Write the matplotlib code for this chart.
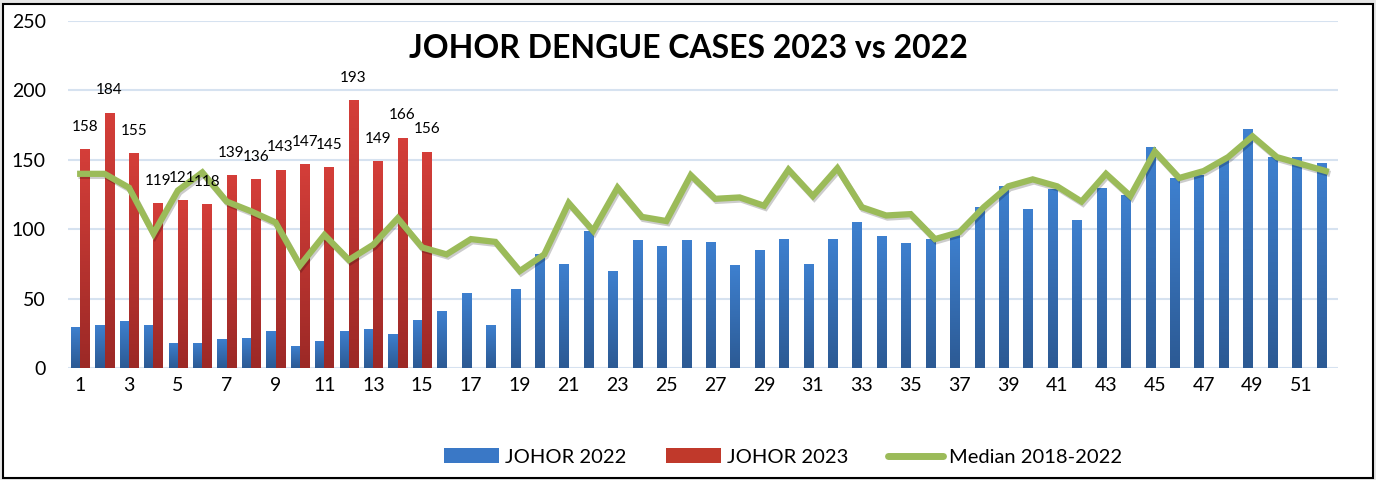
import matplotlib.pyplot as plt
import matplotlib.patheffects as pe
import numpy as np
from matplotlib.colors import LinearSegmentedColormap
from matplotlib.lines import Line2D
from matplotlib.patches import Patch, Rectangle

plt.rcParams["font.family"] = ["Lato", "DejaVu Sans"]

weeks = list(range(1, 53))

johor_2022 = [30, 31, 34, 31, 18, 18, 21, 22, 27, 16, 20, 27, 28, 25, 35, 41,
              54, 31, 57, 82, 75, 99, 70, 92, 88, 92, 91, 74, 85, 93, 75, 93,
              105, 95, 90, 93, 96, 116, 131, 115, 129, 107, 130, 125, 159, 137,
              139, 151, 172, 152, 152, 148]

johor_2023 = [158, 184, 155, 119, 121, 118, 139, 136, 143, 147, 145, 193, 149,
              166, 156]

median_18_22 = [140, 140, 130, 97, 128, 141, 120, 113, 105, 74, 96, 78, 89, 108,
                87, 82, 93, 91, 70, 82, 119, 99, 130, 109, 106, 139, 122, 123,
                117, 143, 124, 144, 116, 110, 111, 93, 98, 116, 131, 136, 131,
                120, 140, 124, 156, 137, 142, 152, 167, 152, 147, 142]

xtick_labels = [str(w) for w in weeks[::2]]

BLUE_CMAP = LinearSegmentedColormap.from_list("blue", ["#2c5a94", "#3e80cf"])
RED_CMAP = LinearSegmentedColormap.from_list("red", ["#9c2926", "#d43e39"])
GREEN = "#9bbb59"


def _gradient_bars(ax, bars, cmap):
    """Fill each bar with a vertical gradient clipped to the bar."""
    grad = np.linspace(0, 1, 64).reshape(-1, 1)
    for bar in bars:
        x, y = bar.get_x(), bar.get_y()
        w, h = bar.get_width(), bar.get_height()
        im = ax.imshow(grad, cmap=cmap, origin="lower", aspect="auto",
                       extent=(x, x + w, y, y + h), zorder=2)
        im.set_clip_path(bar)
        bar.set_alpha(0)


fig = plt.figure(figsize=(13.76, 4.8), dpi=100)
fig.patch.set_facecolor("#e6e6e6")
fig.patches.append(Rectangle((3 / 1376, 2 / 480), 1370 / 1376, 474 / 480,
                             transform=fig.transFigure, facecolor="white",
                             edgecolor="black", linewidth=1.5, zorder=-5))

ax = fig.add_axes([68 / 1376, 111.7 / 480, 1270 / 1376, 347.3 / 480])
ax.set_facecolor("none")

x = np.array(weeks)
w = 0.38
bars22 = ax.bar(x - 0.19, johor_2022, width=w, color="#3a78c6", zorder=2)
x23 = x[:len(johor_2023)]
bars23 = ax.bar(x23 + 0.19, johor_2023, width=w, color="#c0392b", zorder=2)
_gradient_bars(ax, bars22, BLUE_CMAP)
_gradient_bars(ax, bars23, RED_CMAP)

for xi, v in zip(x23, johor_2023):
    ax.annotate(str(v), (xi + 0.19, v), xytext=(0, 11), textcoords="offset points",
                ha="center", va="bottom", fontsize=11, zorder=5)

ax.plot(x, median_18_22, color=GREEN, linewidth=4.5, solid_joinstyle="miter",
        zorder=4,
        path_effects=[pe.SimpleLineShadow(offset=(1, -1.5), alpha=0.2),
                      pe.Normal()])

ax.set_xlim(0.5, 52.5)
ax.set_ylim(0, 250)
ax.set_yticks(range(0, 251, 50))
ax.set_xticks(weeks[::2])
ax.set_xticklabels(xtick_labels)
ax.tick_params(axis="y", length=0, pad=16, labelsize=14)
ax.tick_params(axis="x", length=0, pad=6, labelsize=14)
ax.grid(axis="y", color="#d6e2f0", linewidth=1.5, zorder=0)
ax.set_axisbelow(True)
for s in ax.spines.values():
    s.set_visible(False)

fig.text(0.5, 0.9, "JOHOR DENGUE CASES 2023 vs 2022", ha="center", va="center",
         fontsize=23, fontweight="bold")

handles = [
    Patch(facecolor="#3a78c6", label="JOHOR 2022"),
    Patch(facecolor="#c0392b", label="JOHOR 2023"),
    Line2D([], [], color=GREEN, linewidth=5, solid_capstyle="round",
           label="Median 2018-2022"),
]
fig.legend(handles=handles, loc="center", bbox_to_anchor=(783 / 1376, 23 / 480),
           ncol=3, frameon=False, fontsize=14.5, handlelength=2.7,
           handleheight=0.7, handletextpad=0.3, columnspacing=2.0)

fig.savefig("out.png", dpi=100)
